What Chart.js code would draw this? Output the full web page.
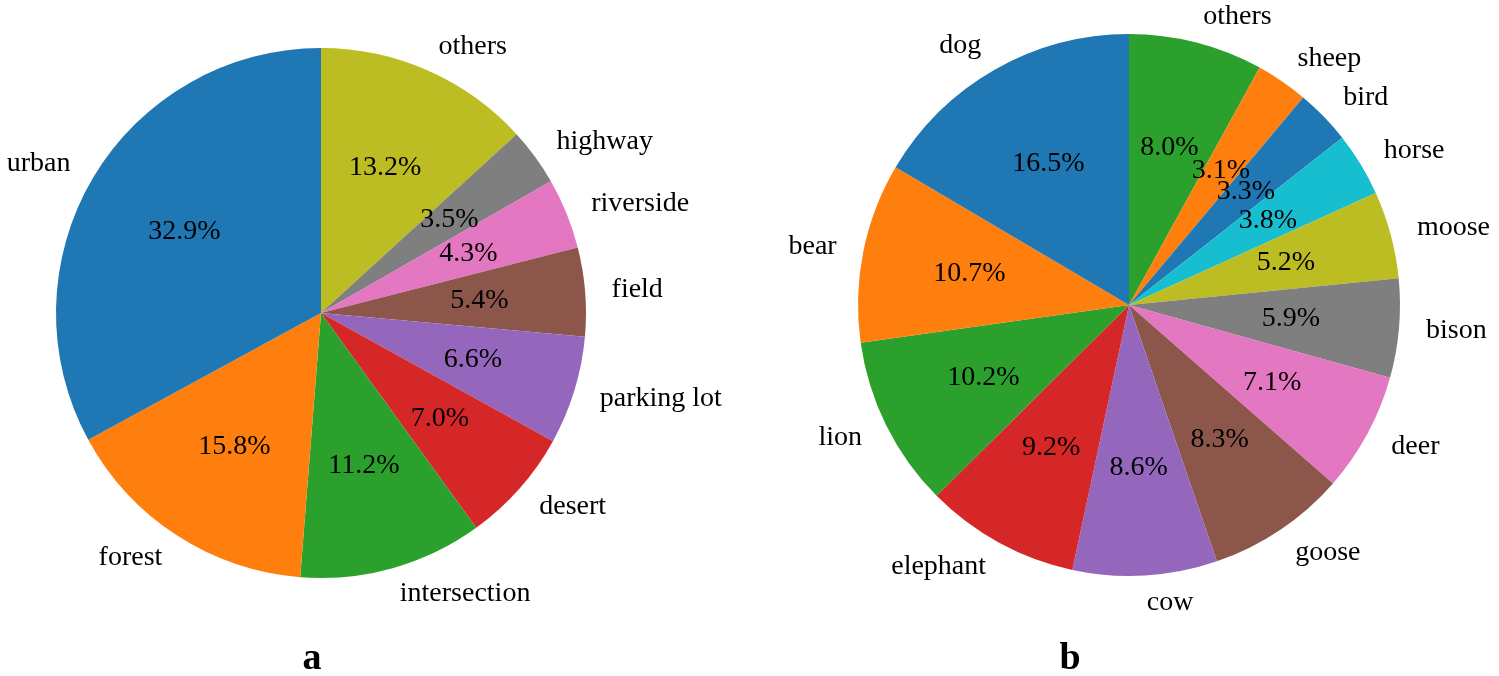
<!DOCTYPE html>
<html>
<head>
<meta charset="utf-8">
<script src="https://cdn.jsdelivr.net/npm/chart.js@4"></script>
<style>
  body { margin: 0; background: #fff; }
  #wrap { position: relative; width: 1499px; height: 676px; overflow: hidden; }
  canvas { position: absolute; top: 0; }
  .tag { position: absolute; font: bold 38px "Liberation Serif", serif; color: #000; transform: translateX(-50%); top: 634px; }
</style>
</head>
<body>
<div id="wrap">
  <canvas id="pieA" width="750" height="676" style="left:0"></canvas>
  <canvas id="pieB" width="750" height="676" style="left:749px"></canvas>
  <div class="tag" style="left:312px">a</div>
  <div class="tag" style="left:1070px">b</div>
</div>
<script>
// scene types (matplotlib order, counter-clockwise from top)
var sceneLabels = ['urban', 'forest', 'intersection', 'desert', 'parking lot', 'field', 'riverside', 'highway', 'others'];
var sceneValues = [32.9, 15.8, 11.2, 7.0, 6.6, 5.4, 4.3, 3.5, 13.2];
var sceneColors = ['#1f77b4', '#ff7f0e', '#2ca02c', '#d62728', '#9467bd', '#8c564b', '#e377c2', '#7f7f7f', '#bcbd22'];

// animal types
var animalLabels = ['dog', 'bear', 'lion', 'elephant', 'cow', 'goose', 'deer', 'bison', 'moose', 'horse', 'bird', 'sheep', 'others'];
var animalValues = [16.5, 10.7, 10.2, 9.2, 8.6, 8.3, 7.1, 5.9, 5.2, 3.8, 3.3, 3.1, 8.0];
var animalColors = ['#1f77b4', '#ff7f0e', '#2ca02c', '#d62728', '#9467bd', '#8c564b', '#e377c2', '#7f7f7f', '#bcbd22', '#17becf', '#1f77b4', '#ff7f0e', '#2ca02c'];

const FONT = '28px "Liberation Serif", "Times New Roman", serif';

// draws the labels outside (1.1 r) and the percentages inside (0.6 r)
const sliceText = {
    id: 'sliceText',
    afterDatasetsDraw(chart) {
        const ctx = chart.ctx;
        const meta = chart.getDatasetMeta(0);
        const labels = chart.data.labels;
        const values = chart.data.datasets[0].data;
        ctx.save();
        ctx.font = FONT;
        ctx.fillStyle = '#000';
        ctx.textBaseline = 'middle';
        meta.data.forEach(function (arc, i) {
            const p = arc.getProps(['x', 'y', 'startAngle', 'endAngle', 'outerRadius'], true);
            const mid = (p.startAngle + p.endAngle) / 2;
            const cx = Math.cos(mid), cy = Math.sin(mid);
            ctx.textAlign = 'center';
            ctx.fillText(values[i].toFixed(1) + '%', p.x + cx * p.outerRadius * 0.6, p.y + cy * p.outerRadius * 0.6);
            ctx.textAlign = cx < 0 ? 'right' : 'left';
            ctx.fillText(labels[i], p.x + cx * p.outerRadius * 1.1, p.y + cy * p.outerRadius * 1.1);
        });
        ctx.restore();
    }
};

function makePie(id, labels, values, colors, pad) {
    // chart.js goes clockwise, so reverse to get the counter-clockwise look
    new Chart(document.getElementById(id), {
        type: 'pie',
        data: {
            labels: labels.slice().reverse(),
            datasets: [{
                data: values.slice().reverse(),
                backgroundColor: colors.slice().reverse(),
                borderWidth: 0,
                hoverOffset: 0
            }]
        },
        options: {
            responsive: false,
            animation: false,
            events: [],
            layout: { padding: pad },
            plugins: { legend: { display: false }, tooltip: { enabled: false } }
        },
        plugins: [sliceText]
    });
}

makePie('pieA', sceneLabels, sceneValues, sceneColors, { left: 56, right: 164, top: 48, bottom: 98 });
makePie('pieB', animalLabels, animalValues, animalColors, { left: 109, right: 99, top: 34, bottom: 100 });
</script>
</body>
</html>
